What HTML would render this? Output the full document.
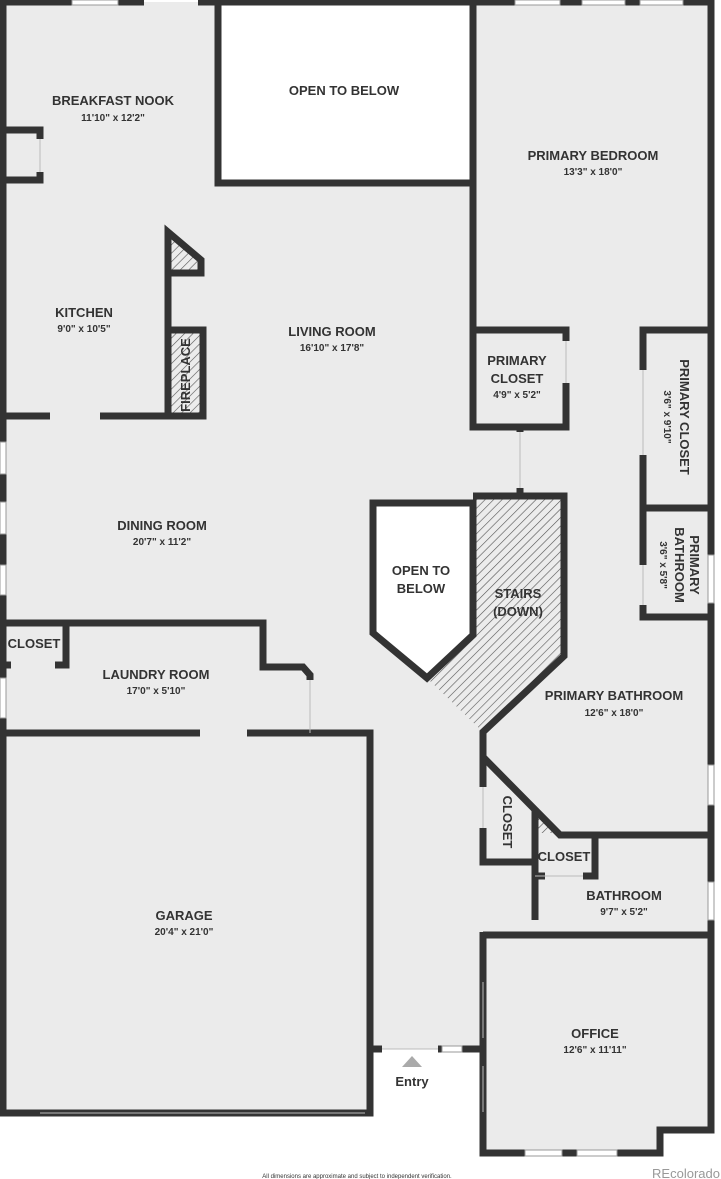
<!DOCTYPE html>
<html><head><meta charset="utf-8"><style>
body{margin:0;background:#fff;}
svg{display:block;}
text{font-family:"Liberation Sans",sans-serif;font-weight:bold;fill:#333;text-anchor:middle;}
.n{font-size:13px;}
.d{font-size:10px;}
</style></head><body>
<svg width="721" height="1179" viewBox="0 0 721 1179">
<defs>
<pattern id="h" width="6" height="6" patternUnits="userSpaceOnUse" patternTransform="rotate(45)">
<rect width="6" height="6" fill="#ececec"/><line x1="0" y1="0" x2="0" y2="6" stroke="#555" stroke-width="1.2"/>
</pattern>
</defs>
<polygon fill="#ebebeb" points="3,2 711,2 711,1127 660,1127 660,1153 483,1153 483,1049 372,1049 372,1113 3,1113"/>
<rect x="218" y="2" width="254" height="181" fill="#fff"/>
<polygon fill="#fff" points="373,503 473,503 473,635 427,678 373,633"/>
<polygon fill="url(#h)" points="473,496 564,496 564,656 483,732 427,678 473,635"/>
<rect x="170" y="332" width="31" height="84" fill="url(#h)"/>
<polygon fill="url(#h)" points="170,233 200,260 200,272 170,272"/>
<polygon fill="url(#h)" points="535,815 555,833 535,833"/>
<g fill="none" stroke="#333" stroke-width="7" stroke-linejoin="miter">
<polyline points="3,0 3,1116"/>
<polyline points="0,2 72,2"/><polyline points="118,2 144,2"/><polyline points="198,2 515,2"/><polyline points="560,2 582,2"/><polyline points="625,2 640,2"/><polyline points="683,2 714,2"/>
<polyline points="711,0 711,1130 660,1130 660,1153 483,1153 483,932"/>
<polyline points="218,2 218,183 472,183"/>
<polyline points="473,2 473,330"/>
<polyline points="3,130 40,130 40,139"/><polyline points="40,172 40,180 3,180"/>
<polyline points="0,416 50,416"/><polyline points="100,416 203,416 203,330 168,330"/>
<polyline points="168,416 168,232 201,260 201,273 168,273"/>
<polyline points="3,623 263,623 263,667 303,667 310,675 310,680"/>
<polyline points="66,623 66,665 55,665"/><polyline points="11,665 3,665"/>
<polyline points="0,733 200,733"/><polyline points="247,733 370,733 370,1113 0,1113"/>
<polyline points="372,1049 382,1049"/><polyline points="438,1049 442,1049"/><polyline points="462,1049 483,1049"/>
<polyline points="483,932 483,982"/><polyline points="483,1038 483,1066"/><polyline points="483,1112 483,1153"/>
<polyline points="473,330 566,330 566,341"/><polyline points="566,383 566,427 473,427 473,330"/>
<polyline points="520,427 520,432"/><polyline points="520,488 520,496"/>
<polyline points="643,370 643,330 711,330"/><polyline points="643,455 643,508 711,508"/>
<polyline points="643,508 643,565"/><polyline points="643,605 643,617 711,617"/>
<polygon points="373,503 473,503 473,635 427,678 373,633"/>
<polyline points="473,496 564,496 564,656 483,732 483,787"/>
<polyline points="483,828 483,862 535,862"/>
<polyline points="483,757 560,835 711,835"/>
<polyline points="535,808 535,920"/><polyline points="535,876 545,876"/><polyline points="583,876 595,876 595,835"/>
<polyline points="483,935 711,935"/>
</g>
<!-- windows -->
<g fill="#fff" stroke="#999" stroke-width="1">
<rect x="0" y="442" width="6" height="32"/><rect x="0" y="502" width="6" height="32"/><rect x="0" y="565" width="6" height="30"/><rect x="0" y="678" width="6" height="40"/>
<rect x="708" y="555" width="6" height="48"/><rect x="708" y="765" width="6" height="40"/><rect x="708" y="882" width="6" height="38"/>
<rect x="525" y="1150" width="37" height="6"/><rect x="577" y="1150" width="40" height="6"/>
<rect x="442" y="1046" width="20" height="6"/>
<rect x="72" y="0" width="46" height="5"/><rect x="515" y="0" width="45" height="5"/><rect x="582" y="0" width="43" height="5"/><rect x="640" y="0" width="43" height="5"/>
</g>
<g stroke="#bbb" stroke-width="1" fill="none">
<line x1="520" y1="432" x2="520" y2="488"/><line x1="566" y1="341" x2="566" y2="383"/>
<line x1="310" y1="680" x2="310" y2="733"/><line x1="40" y1="139" x2="40" y2="172"/>
<line x1="643" y1="370" x2="643" y2="455"/><line x1="643" y1="565" x2="643" y2="605"/>
<line x1="483" y1="982" x2="483" y2="1038"/><line x1="483" y1="1066" x2="483" y2="1112"/>
<line x1="382" y1="1049" x2="438" y2="1049"/><line x1="40" y1="1113" x2="365" y2="1113"/>
<line x1="483" y1="787" x2="483" y2="828"/><line x1="535" y1="876" x2="583" y2="876"/>
</g>
<polygon points="402,1067 422,1067 412,1056" fill="#aaa"/>
<text class="n" x="113" y="105">BREAKFAST NOOK</text><text class="d" x="113" y="121">11'10" x 12'2"</text>
<text class="n" x="344" y="95">OPEN TO BELOW</text>
<text class="n" x="593" y="160">PRIMARY BEDROOM</text><text class="d" x="593" y="175">13'3" x 18'0"</text>
<text class="n" x="84" y="317">KITCHEN</text><text class="d" x="84" y="332">9'0" x 10'5"</text>
<text class="n" x="332" y="336">LIVING ROOM</text><text class="d" x="332" y="351">16'10" x 17'8"</text>
<text class="n" x="517" y="365">PRIMARY</text><text class="n" x="517" y="383">CLOSET</text><text class="d" x="517" y="398">4'9" x 5'2"</text>
<text class="n" x="162" y="530">DINING ROOM</text><text class="d" x="162" y="545">20'7" x 11'2"</text>
<text class="n" x="421" y="575">OPEN TO</text><text class="n" x="421" y="593">BELOW</text>
<text class="n" x="518" y="598">STAIRS</text><text class="n" x="518" y="616">(DOWN)</text>
<text class="n" x="34" y="648">CLOSET</text>
<text class="n" x="156" y="679">LAUNDRY ROOM</text><text class="d" x="156" y="694">17'0" x 5'10"</text>
<text class="n" x="614" y="700">PRIMARY BATHROOM</text><text class="d" x="614" y="716">12'6" x 18'0"</text>
<text class="n" x="564" y="861">CLOSET</text>
<text class="n" x="624" y="900">BATHROOM</text><text class="d" x="624" y="915">9'7" x 5'2"</text>
<text class="n" x="184" y="920">GARAGE</text><text class="d" x="184" y="935">20'4" x 21'0"</text>
<text class="n" x="595" y="1038">OFFICE</text><text class="d" x="595" y="1053">12'6" x 11'11"</text>
<text class="n" x="412" y="1086">Entry</text>
<text class="n" transform="translate(190,375) rotate(-90)">FIREPLACE</text>
<text class="n" transform="translate(680,417) rotate(90)">PRIMARY CLOSET</text>
<text class="d" transform="translate(664,417) rotate(90)">3'6" x 9'10"</text>
<text class="n" transform="translate(690,565) rotate(90)">PRIMARY</text>
<text class="n" transform="translate(675,565) rotate(90)">BATHROOM</text>
<text class="d" transform="translate(660,565) rotate(90)">3'6" x 5'8"</text>
<text class="n" transform="translate(503,822) rotate(90)">CLOSET</text>
<text x="357" y="1178" style="font-size:6px;font-weight:normal">All dimensions are approximate and subject to independent verification.</text>
<text x="686" y="1178" style="font-size:13px;font-weight:normal;fill:#999">REcolorado</text>
</svg>
</body></html>
